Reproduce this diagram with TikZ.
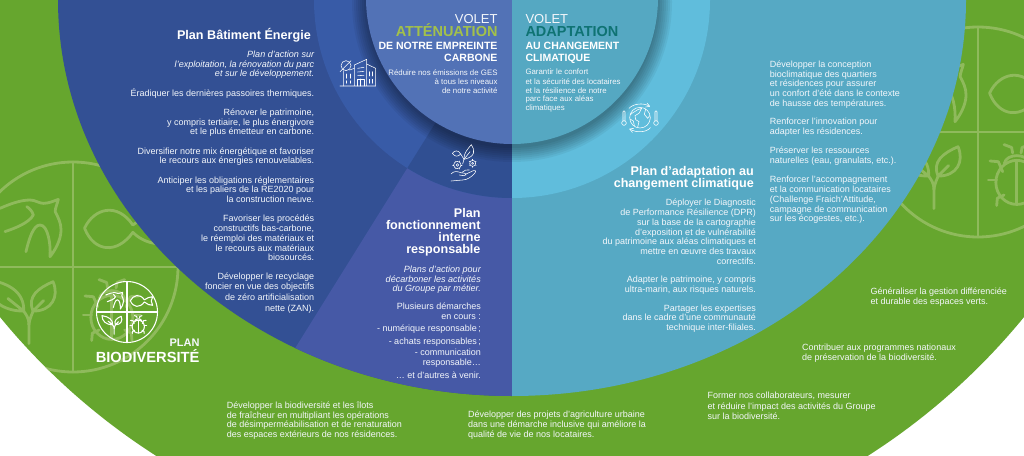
\documentclass[tikz,border=0pt]{standalone}
\usepackage{fontspec}
\usetikzlibrary{calc}
\setmainfont{Liberation Sans}
\definecolor{cgreen}{HTML}{66A62E}
\definecolor{cmark}{HTML}{8FBA5C}
\definecolor{cblue}{HTML}{335094}
\definecolor{cinnerL}{HTML}{385BA7}
\definecolor{cfonc}{HTML}{4659A6}
\definecolor{cdark}{HTML}{304F92}
\definecolor{ctopL}{HTML}{5272B6}
\definecolor{cteal}{HTML}{56A9C4}
\definecolor{clight}{HTML}{60BDDC}
\definecolor{ctopR}{HTML}{55A8C2}
\definecolor{cattn}{HTML}{A3C14A}
\definecolor{cadap}{HTML}{0F7373}
\definecolor{ctext}{HTML}{F4F7FB}
\newcommand\fst{\rule{0pt}{14pt}}
\tikzset{
  body/.style={font=\fontsize{9}{9.7}\selectfont,text=ctext,inner sep=0pt},
  small/.style={font=\fontsize{7.85}{9.2}\selectfont,text=ctext,inner sep=0pt},
  ttl/.style={font=\fontsize{12.6}{11.8}\selectfont\bfseries,text=white,inner sep=0pt},
  head/.style={font=\fontsize{10.55}{12}\selectfont\bfseries,text=white,inner sep=0pt},
  ital/.style={font=\fontsize{9.05}{9.7}\selectfont\itshape,text=ctext,inner sep=0pt},
  toR/.style={anchor=north east,align=right},
  toL/.style={anchor=north west,align=left},
  ico/.style={draw=white,line width=.55pt,line cap=round,line join=round,fill=none}
}
% right-aligned and left-aligned text: name, x, baseline of first line, style, text
\newcommand\tR[5]{\node[#4,toR] (#1) at ({#2},{#3-14}) {\fst #5};}
\newcommand\tL[5]{\node[#4,toL] (#1) at ({#2},{#3-14}) {\fst #5};}
% the biodiversity medallion
\newcommand\bioicon[5]{%
\begin{scope}[shift={(#1,#2)},x=#3pt,y=#3pt,draw=#5,line width=#4pt,line cap=round,line join=round]
  \draw (0,0) circle [radius=1];
  \draw (-1,0) -- (1,0) (0,-1) -- (0,1);
  % bird
  \draw (-.695,.559) .. controls (-.6,.6) and (-.5,.638) .. (-.41,.638)
        .. controls (-.36,.638) and (-.32,.606) .. (-.283,.606)
        .. controls (-.23,.606) and (-.18,.63) .. (-.14,.644)
        .. controls (-.15,.6) and (-.17,.56) .. (-.17,.527)
        .. controls (-.14,.47) and (-.114,.42) .. (-.114,.352)
        .. controls (-.114,.26) and (-.17,.16) .. (-.219,.098)
        .. controls (-.21,.22) and (-.24,.40) .. (-.314,.40)
        .. controls (-.38,.40) and (-.42,.26) .. (-.448,.146);
  \draw (-.648,.337) .. controls (-.55,.37) and (-.42,.42) .. (-.378,.495)
        .. controls (-.39,.54) and (-.42,.56) .. (-.44,.575);
  % fish
  \draw (.57,.40) .. controls (.42,.62) and (.2,.56) .. (.11,.37)
        .. controls (.2,.14) and (.42,.12) .. (.57,.33)
        .. controls (.65,.25) and (.75,.22) .. (.84,.22)
        .. controls (.78,.30) and (.78,.42) .. (.84,.5)
        .. controls (.75,.5) and (.65,.46) .. (.57,.40);
  % plant
  \draw (-.42,-.73) -- (-.42,-.55) .. controls (-.42,-.48) and (-.45,-.45) .. (-.47,-.42);
  \draw (-.42,-.55) .. controls (-.41,-.48) and (-.39,-.45) .. (-.38,-.42);
  \draw (-.47,-.42) .. controls (-.46,-.25) and (-.6,-.15) .. (-.82,-.12)
        .. controls (-.82,-.3) and (-.68,-.42) .. (-.47,-.42) -- (-.62,-.3);
  \draw (-.38,-.42) .. controls (-.44,-.28) and (-.33,-.2) .. (-.19,-.14)
        .. controls (-.13,-.28) and (-.2,-.42) .. (-.38,-.42) -- (-.28,-.32);
  % bug
  \draw (.37,-.48) ellipse [x radius=.2,y radius=.21];
  \draw (.37,-.28) -- (.37,-.69);
  \draw (.25,-.3) .. controls (.27,-.2) and (.47,-.2) .. (.49,-.3);
  \draw (.114,-.276) -- (.194,-.283) -- (.235,-.378);
  \draw (.098,-.457) -- (.178,-.457);
  \draw (.178,-.70) -- (.184,-.63) -- (.248,-.60);
  \draw (.248,-.12) -- (.32,-.147) -- (.33,-.2);
  \draw (.626,-.276) -- (.546,-.283) -- (.505,-.378);
  \draw (.642,-.457) -- (.562,-.457);
  \draw (.562,-.70) -- (.556,-.63) -- (.492,-.60);
  \draw (.492,-.12) -- (.42,-.147) -- (.41,-.2);
\end{scope}}
\begin{document}
\begin{tikzpicture}[x=1pt,y=-1pt]
\useasboundingbox (0,0) rectangle (1024,455);
\fill[white] (0,0) rectangle (1024,455);
% outer green disc
\fill[cgreen] (512,-102) circle [radius=661.6pt];
% watermarks
\begin{scope}
  \clip (512,-102) circle [radius=661.6pt];
  \bioicon{73}{267}{105}{2.8}{cmark}
  \bioicon{978}{132}{105}{2.8}{cmark}
\end{scope}
% left half
\begin{scope}
  \clip (0,0) rectangle (512,455);
  \fill[cblue] (512,0) ellipse [x radius=454pt,y radius=396pt];
  \begin{scope}
    \clip (512,0) -- (200.6,500) -- (512,500) -- cycle;
    \fill[cfonc] (512,0) ellipse [x radius=454pt,y radius=396pt];
  \end{scope}
  \fill[cinnerL] (512,0) circle [radius=198pt];
  \begin{scope}
    \clip (512,0) -- (200.6,500) -- (512,500) -- cycle;
    \fill[cdark] (512,0) circle [radius=198pt];
  \end{scope}
\end{scope}
% right half
\begin{scope}
  \clip (512,0) rectangle (1024,455);
  \fill[cteal] (512,0) ellipse [x radius=454pt,y radius=396pt];
  \fill[clight] (512,0) circle [radius=198pt];
\end{scope}
% shadow of the central disc
\foreach \rr in {146,148,...,160} {
  \fill[black,opacity=.05] (512,2) circle [radius=\rr pt];
}
% central disc
\begin{scope}
  \clip (0,0) rectangle (512,455);
  \fill[ctopL] (512,-2) circle [radius=146pt];
\end{scope}
\begin{scope}
  \clip (512,0) rectangle (1024,455);
  \fill[ctopR] (512,-2) circle [radius=146pt];
\end{scope}
% medallion
\bioicon{127}{312}{30.5}{1.05}{white}
\node[font=\fontsize{11}{12}\selectfont\bfseries,text=ctext,inner sep=0pt,anchor=base east] (plan) at (199.7,346.7) {PLAN};
\node[font=\fontsize{14.7}{16}\selectfont\bfseries,text=white,inner sep=0pt,anchor=base east] (biodiv) at (199.7,362.3) {BIODIVERSITÉ};
% building icon
\begin{scope}[shift={(335,50)},x=.3333pt,y=-.3333pt]
  \draw[ico] (15,108) -- (122,108) (58,108) -- (58,45) -- (95,28) -- (95,108);
  \draw[ico] (95,42) -- (122,55) -- (122,108);
  \draw[ico] (25,62) -- (25,108) (44,60) -- (58,55);
  \draw[ico] (33,47) circle [radius=15];
  \draw[ico] (15,65) -- (48,32);
  \draw[ico] (68,55) -- (87,52) (68,66) -- (87,64) (68,77) -- (87,76);
  \draw[ico] (67,108) -- (67,87) -- (87,87) -- (87,108) (77,87) -- (77,108);
  \draw[ico] (35,72) -- (35,85) (47,72) -- (47,85) (35,92) -- (35,100) (47,92) -- (47,100);
  \draw[ico] (104,65) -- (104,78) (113,65) -- (113,78) (104,88) -- (104,100) (113,88) -- (113,100);
\end{scope}
% flower and hand icon
\begin{scope}[shift={(440,140)},x=.3333pt,y=-.3333pt]
  \draw[ico] (72,58) .. controls (70,40) and (85,25) .. (94,14) .. controls (105,30) and (108,50) .. (72,58);
  \draw[ico] (72,58) -- (90,35);
  \draw[ico] (62,42) .. controls (55,30) and (45,30) .. (37,40) .. controls (45,52) and (55,50) .. (62,42);
  \draw[ico] (62,42) -- (72,58) -- (68,72);
  \draw[ico] (52,75) circle [radius=11];
  \draw[ico] (52,75) circle [radius=4];
  \draw[ico] (98,70) circle [radius=9];
  \draw[ico] (98,70) circle [radius=3];
  \foreach \a in {0,60,...,300} {
    \draw[ico] ($(52,75)+(\a:11)$) -- ($(52,75)+(\a:14)$);
    \draw[ico] ($(98,70)+(\a+30:9)$) -- ($(98,70)+(\a+30:12)$);
  }
  \draw[ico] (33,102) .. controls (42,92) and (52,94) .. (62,98) -- (75,100) .. controls (82,102) and (78,108) .. (70,107) -- (58,105);
  \draw[ico] (66,97) .. controls (72,90) and (82,88) .. (88,90);
  \draw[ico] (76,103) -- (100,92) .. controls (108,90) and (110,96) .. (104,100)
             .. controls (95,110) and (82,120) .. (68,120) -- (33,123);
\end{scope}
% globe icon
\begin{scope}[shift={(615,95)},x=.3333pt,y=-.3333pt]
  \draw[ico] (75,68) circle [radius=31];
  \draw[ico] (45,60) .. controls (55,50) and (65,48) .. (68,44) -- (80,40) -- (72,55) -- (60,62) -- (62,74) -- (72,80) -- (68,96);
  \draw[ico] (92,42) -- (88,58) -- (98,70) -- (104,62);
  \draw[ico] (45,72) -- (55,78) -- (58,92);
  \draw[ico] (42,40) .. controls (55,26) and (85,22) .. (104,34);
  \draw[ico] (104,34) -- (96,24) (104,34) -- (92,36);
  \draw[ico] (106,98) .. controls (95,112) and (65,115) .. (44,102);
  \draw[ico] (44,102) -- (52,112) (44,102) -- (56,100);
  \draw[ico] (24,50) -- (24,78) (30,78) -- (30,50) arc [start angle=0,end angle=180,radius=1pt];
  \draw[ico] (27,84) circle [radius=7];
  \draw[ico] (120,50) -- (120,78) (126,78) -- (126,50) arc [start angle=0,end angle=180,radius=1pt];
  \draw[ico] (123,84) circle [radius=7];
\end{scope}
% ---- texts ----
\tR{tBat}{311}{39.3}{ttl}{Plan Bâtiment Énergie}
\tR{tBatI}{314.3}{57.3}{ital}{Plan d’action sur\\l’exploitation, la rénovation du parc\\et sur le développement.}
\tR{tBat1}{314.3}{96.7}{body}{Éradiquer les dernières passoires thermiques.}
\tR{tBat2}{314.3}{115.3}{body}{Rénover le patrimoine,\\y compris tertiaire, le plus énergivore\\et le plus émetteur en carbone.}
\tR{tBat3}{314.3}{154}{body}{Diversifier notre mix énergétique et favoriser\\le recours aux énergies renouvelables.}
\tR{tBat4}{314.3}{183}{body}{Anticiper les obligations réglementaires\\et les paliers de la RE2020 pour\\la construction neuve.}
\tR{tBat5}{314.3}{221.7}{body}{Favoriser les procédés\\constructifs  bas-carbone,\\le réemploi des matériaux et\\le recours aux matériaux\\biosourcés.}
\tR{tBat6}{314.3}{279}{body}{Développer le recyclage\\[1pt]foncier en vue des objectifs\\[1pt]de zéro artificialisation\\[1pt]nette (ZAN).}
% top left
\tR{tV1}{497.7}{23.3}{font=\fontsize{13}{14}\selectfont,text=ctext,inner sep=0pt}{VOLET}
\tR{tA1}{497.7}{36.7}{font=\fontsize{14.5}{15}\selectfont\bfseries,text=cattn,inner sep=0pt}{ATTÉNUATION}
\tR{tD1}{497.7}{49.3}{head}{DE NOTRE EMPREINTE\\CARBONE}
\tR{tR1}{497.7}{75.3}{small}{Réduire nos émissions de GES\\à tous les niveaux\\de notre activité}
% top right
\tL{tV2}{525.3}{23.3}{font=\fontsize{13}{14}\selectfont,text=ctext,inner sep=0pt}{VOLET}
\tL{tA2}{525.3}{36.3}{font=\fontsize{14.5}{15}\selectfont\bfseries,text=cadap,inner sep=0pt}{ADAPTATION}
\tL{tD2}{525.3}{49.3}{head}{AU CHANGEMENT\\CLIMATIQUE}
\tL{tR2}{525.3}{74.7}{small}{Garantir le confort\\et la sécurité des locataires\\et la résilience de notre\\[-.8pt]parc face aux aléas\\[-.6pt]climatiques}
% functioning plan
\tR{tF}{480.7}{217.7}{ttl}{Plan\\fonctionnement\\interne\\responsable}
\tR{tFI}{481}{272.3}{ital}{Plans d’action pour\\décarboner les activités\\du Groupe par métier.}
\tR{tF1}{481}{309}{body}{Plusieurs démarches\\[1pt]en cours :\\[2.2pt]- numérique responsable\,;\\[2.6pt]- achats responsables\,;\\[2pt]- communication\\[.3pt]responsable…\\[3pt]… et d’autres à venir.}
% adaptation plan
\tR{tP}{754}{175}{ttl}{Plan d’adaptation au\\changement climatique}
\tR{tP1}{756}{205.7}{body}{Déployer le Diagnostic\\de Performance Résilience (DPR)\\sur la base de la cartographie\\d’exposition et de vulnérabilité\\du patrimoine aux aléas climatiques et\\mettre en œuvre des travaux\\correctifs.}
\tR{tP2}{756}{282.3}{body}{Adapter le patrimoine, y compris\\ultra-marin, aux risques naturels.}
\tR{tP3}{756}{311}{body}{Partager les expertises\\dans le cadre d’une communauté\\technique inter-filiales.}
% right column
\tL{tC1}{769.7}{67.3}{body}{Développer la conception\\bioclimatique des quartiers\\et résidences pour assurer\\un confort d’été dans le contexte\\de hausse des températures.}
\tL{tC2}{769.7}{124.7}{body}{Renforcer l’innovation pour\\adapter les résidences.}
\tL{tC3}{769.7}{153.7}{body}{Préserver les ressources\\naturelles (eau, granulats, etc.).}
\tL{tC4}{769.7}{182.7}{body}{Renforcer l’accompagnement\\et la communication locataires\\(Challenge Fraich’Attitude,\\campagne de communication\\sur les écogestes, etc.).}
% green texts
\tL{tG1}{870.3}{294.7}{body}{Généraliser la gestion différenciée\\et durable des espaces verts.}
\tL{tG2}{802}{350.3}{body}{Contribuer aux programmes nationaux\\de préservation de la biodiversité.}
\tL{tG3}{707.3}{398.3}{body}{Former nos collaborateurs, mesurer\\[1.2pt]et réduire l’impact des activités du Groupe\\sur la biodiversité.}
\tL{tG4}{226.7}{408.3}{body}{Développer la biodiversité et les îlots\\de fraîcheur en multipliant les opérations\\de désimperméabilisation et de renaturation\\des espaces extérieurs de nos résidences.}
\tL{tG5}{468}{417}{body}{Développer des projets d’agriculture urbaine\\[1pt]dans une démarche inclusive qui améliore la\\qualité de vie de nos locataires.}
\end{tikzpicture}
\end{document}
